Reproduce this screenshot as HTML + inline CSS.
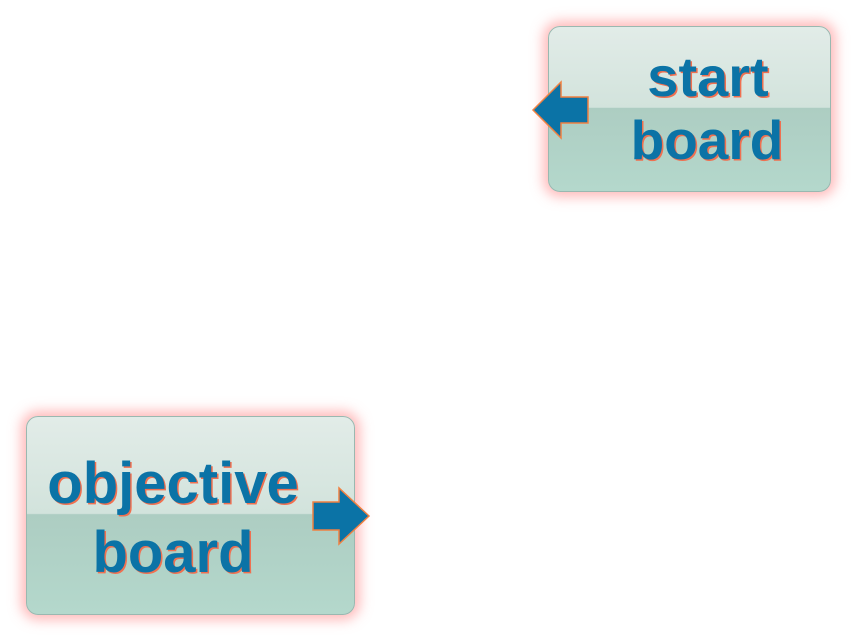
<!DOCTYPE html>
<html><head><style>
body{margin:0;width:858px;height:644px;background:#fff;position:relative;overflow:hidden;font-family:"Liberation Sans",Arial,sans-serif}
.box{position:absolute;border-radius:12px;border:1px solid #9ab8b0;box-shadow:0 0 12px 5px rgba(255,120,120,.5);
background:linear-gradient(#e2ece8 0%,#d2e3dc 49%,#adcdc2 49.5%,#b4d8cc 100%);}
.t{position:absolute;font-weight:bold;color:#0b73a6;text-shadow:1.5px 1.5px 0 #f07050;text-align:center;line-height:1;white-space:nowrap}
svg{position:absolute;left:0;top:0}
</style></head><body>
<div class="box" style="left:548px;top:26px;width:281px;height:164px"></div>
<div class="t" style="left:608px;top:49px;width:200px;font-size:56px">start</div>
<div class="t" style="left:607px;top:113px;width:200px;font-size:55px">board</div>
<div class="box" style="left:26px;top:416px;width:327px;height:197px"></div>
<div class="t" style="left:23px;top:455px;width:300px;font-size:58px">objective</div>
<div class="t" style="left:23px;top:524px;width:300px;font-size:58px">board</div>
<svg width="858" height="644">
<polygon points="533,110 561,82 561,97 588,97 588,123 561,123 561,138" fill="#0b73a6" stroke="#f08040" stroke-width="1.5"/>
<polygon points="369,516 339,488 339,502 313,502 313,530 339,530 339,544" fill="#0b73a6" stroke="#f08040" stroke-width="1.5"/>
</svg>
</body></html>
